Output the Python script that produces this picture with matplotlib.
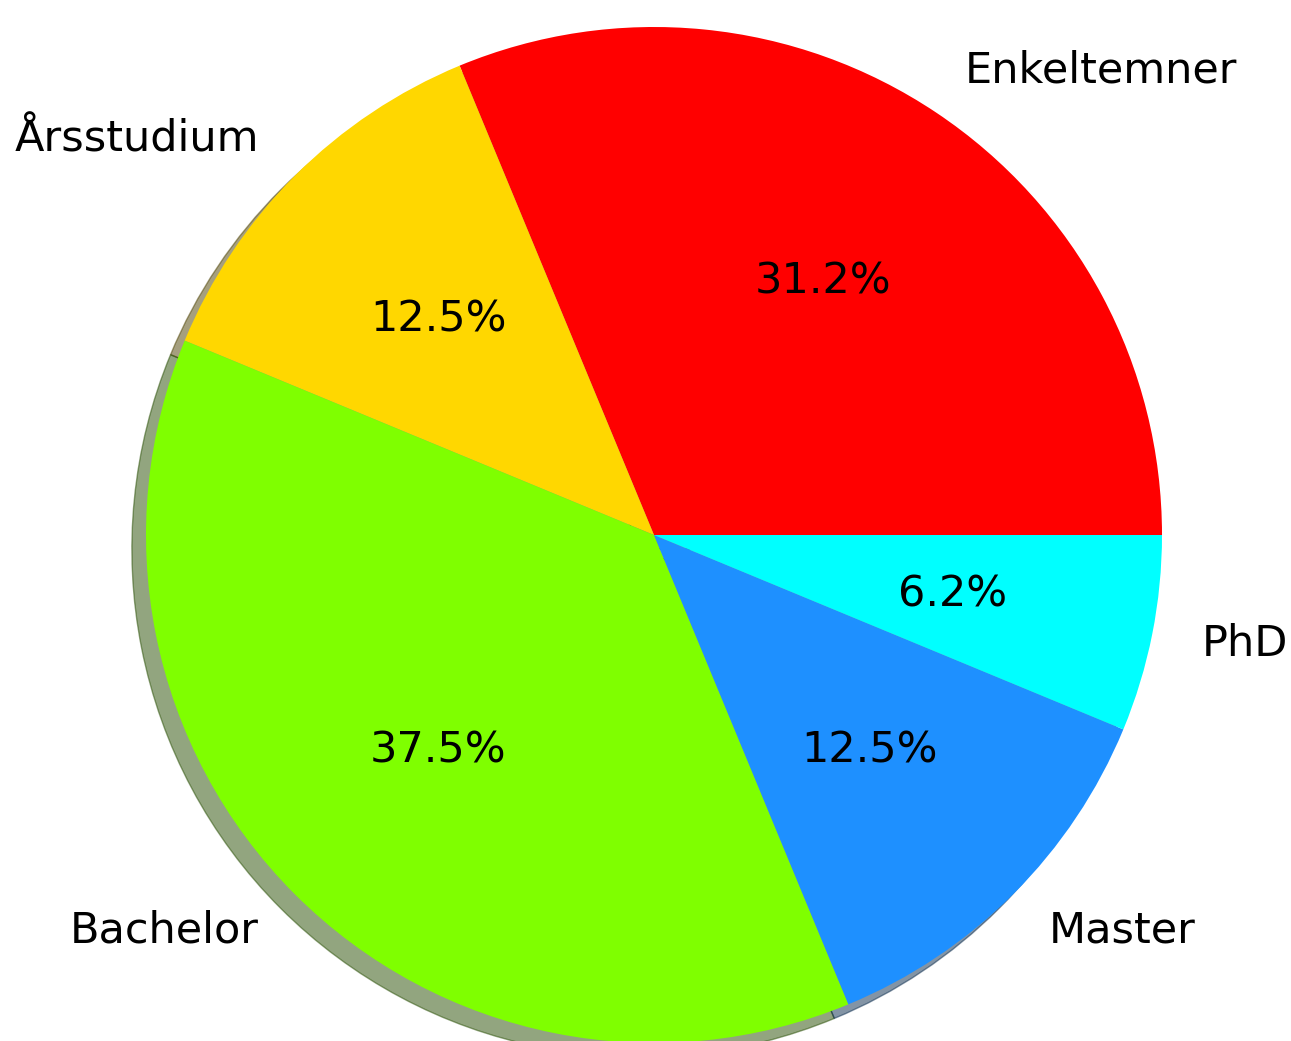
import matplotlib
matplotlib.use("Agg")
import matplotlib.pyplot as plt

labels = ["Enkeltemner", "Årsstudium", "Bachelor", "Master", "PhD"]
values = [5, 2, 6, 2, 1]
colors = ["red", "gold", "chartreuse", "dodgerblue", "cyan"]

W, H = 1291, 1041
cx, cy, r = 654, 1041 - 535, 508

fig = plt.figure(figsize=(W / 100, H / 100), dpi=100)
ax = fig.add_axes([0, 0, 1, 1])
ax.pie(values, labels=labels, colors=colors, autopct="%1.1f%%", shadow=True,
       startangle=0, textprops={"fontsize": 31})
ax.set_aspect("auto")
ax.set_xlim(-cx / r, (W - cx) / r)
ax.set_ylim(-cy / r, (H - cy) / r)
ax.axis("off")
fig.savefig("out.png", dpi=100)
